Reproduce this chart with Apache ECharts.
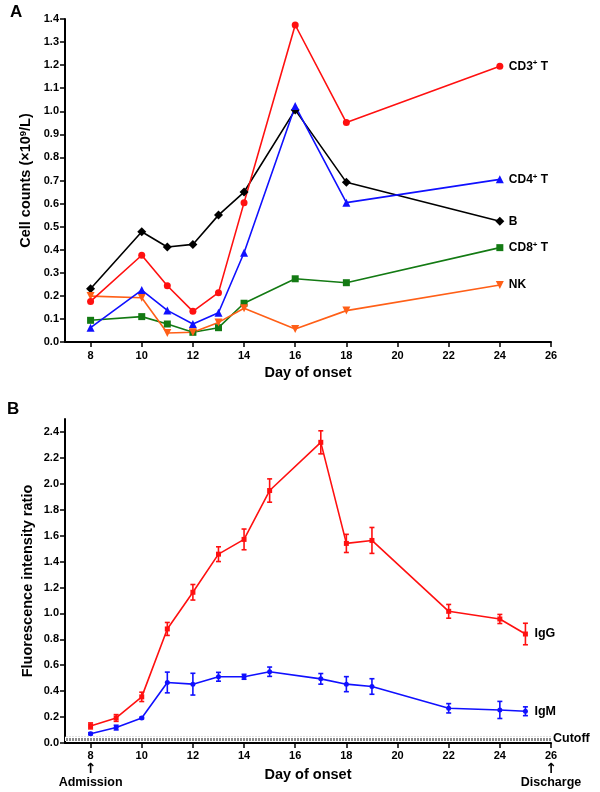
<!DOCTYPE html>
<html>
<head>
<meta charset="utf-8">
<script src="https://cdn.jsdelivr.net/npm/echarts@6/dist/echarts.min.js"></script>
<style>
html,body{margin:0;padding:0;background:#fff;}
#chart{width:600px;height:792px;}
</style>
</head>
<body>
<div id="chart"></div>
<script>
// ---------- Panel A data ----------
const daysA = [8, 10, 11, 12, 13, 14, 16, 18, 24];
const cd3 = [0.176, 0.376, 0.244, 0.133, 0.214, 0.604, 1.374, 0.951, 1.195];
const cd4 = [0.062, 0.225, 0.137, 0.078, 0.127, 0.387, 1.023, 0.604, 0.705];
const bCells = [0.231, 0.478, 0.412, 0.423, 0.550, 0.650, 1.006, 0.692, 0.523];
const cd8 = [0.094, 0.110, 0.078, 0.042, 0.062, 0.168, 0.274, 0.257, 0.409];
const nk = [0.199, 0.192, 0.039, 0.042, 0.085, 0.146, 0.056, 0.136, 0.247];

// ---------- Panel B data ----------
const daysB = [8, 9, 10, 11, 12, 13, 14, 15, 17, 18, 19, 22, 24, 25];
const igg = [0.132, 0.193, 0.356, 0.880, 1.163, 1.457, 1.571, 1.948, 2.320, 1.540, 1.563, 1.016, 0.957, 0.841];
const iggErr = [0.023, 0.026, 0.036, 0.050, 0.060, 0.057, 0.080, 0.090, 0.089, 0.070, 0.100, 0.053, 0.035, 0.083];
const igm = [0.072, 0.119, 0.193, 0.467, 0.454, 0.511, 0.511, 0.550, 0.495, 0.454, 0.436, 0.268, 0.255, 0.245];
const igmErr = [0.008, 0.018, 0.006, 0.080, 0.084, 0.034, 0.019, 0.036, 0.041, 0.058, 0.060, 0.036, 0.066, 0.034];
const cutoffBand = [0.015, 0.048];

// ---------- Ticks ----------
const xTicks = [8, 10, 12, 14, 16, 18, 20, 22, 24, 26];
const yTicksA = [0, 0.1, 0.2, 0.3, 0.4, 0.5, 0.6, 0.7, 0.8, 0.9, 1.0, 1.1, 1.2, 1.3, 1.4];
const yTicksB = [0, 0.2, 0.4, 0.6, 0.8, 1.0, 1.2, 1.4, 1.6, 1.8, 2.0, 2.2, 2.4];

const FONT = '"Liberation Sans", Arial, sans-serif';
const chart = echarts.init(document.getElementById('chart'), null, {renderer: 'canvas'});

// hatch pattern for cutoff band
const pat = document.createElement('canvas');
pat.width = 3; pat.height = 5;
const pctx = pat.getContext('2d');
pctx.fillStyle = '#ffffff'; pctx.fillRect(0, 0, 3, 5);
pctx.fillStyle = '#8a8a8a'; pctx.fillRect(0, 0, 2, 2); pctx.fillRect(0, 3, 2, 2);

const supRich = {
  a: {fontSize: 12, fontWeight: 'bold', fontFamily: FONT, color: '#000', lineHeight: 14},
  s: {fontSize: 8, fontWeight: 'bold', fontFamily: FONT, color: '#000', verticalAlign: 'top', lineHeight: 8}
};

function lineA(name, data, color, symbol, size, label, rotate) {
  return {
    type: 'line', name: name, xAxisIndex: 0, yAxisIndex: 0,
    data: daysA.map((d, i) => [d, data[i]]),
    symbol: symbol, symbolSize: size, symbolRotate: rotate || 0,
    lineStyle: {color: color, width: 1.6},
    itemStyle: {color: color},
    endLabel: {show: true, distance: 9, formatter: label, rich: supRich,
      fontSize: 12, fontWeight: 'bold', fontFamily: FONT, color: '#000'},
    z: 3
  };
}

function errSeries(vals, errs, color) {
  return {
    type: 'custom', xAxisIndex: 1, yAxisIndex: 1,
    data: daysB.map((d, i) => [d, vals[i], errs[i]]),
    encode: {x: 0, y: 1},
    renderItem: function (params, api) {
      const x = api.value(0), y = api.value(1), e = api.value(2);
      const top = api.coord([x, y + e]);
      const bot = api.coord([x, y - e]);
      const w = 2.5;
      const st = {stroke: color, lineWidth: 1.6};
      return {type: 'group', children: [
        {type: 'line', shape: {x1: top[0], y1: top[1], x2: bot[0], y2: bot[1]}, style: st},
        {type: 'line', shape: {x1: top[0] - w, y1: top[1], x2: top[0] + w, y2: top[1]}, style: st},
        {type: 'line', shape: {x1: bot[0] - w, y1: bot[1], x2: bot[0] + w, y2: bot[1]}, style: st}
      ]};
    },
    z: 4
  };
}

const axisLineStyle = {color: '#000', width: 2};
const tickStyle = {color: '#000', width: 1.5};
const labelStyle = {color: '#000', fontSize: 11, fontWeight: 'bold', fontFamily: FONT};
const nameStyle = {color: '#000', fontSize: 14.5, fontWeight: 'bold', fontFamily: FONT};

const option = {
  animation: false,
  backgroundColor: '#fff',
  title: [
    {text: 'A', left: 5, top: -1, textStyle: {fontSize: 17, fontWeight: 'bold', fontFamily: FONT, color: '#000'}},
    {text: 'B', left: 2, top: 396, textStyle: {fontSize: 17, fontWeight: 'bold', fontFamily: FONT, color: '#000'}}
  ],
  grid: [
    {left: 65, top: 19, width: 486, height: 323, outerBoundsMode: 'none', containLabel: false},
    {left: 65, top: 419, width: 486, height: 324, outerBoundsMode: 'none', containLabel: false}
  ],
  xAxis: [
    {type: 'value', gridIndex: 0, min: 7, max: 26,
      axisLine: {show: true, onZero: false, lineStyle: axisLineStyle},
      axisTick: {show: true, customValues: xTicks, length: 5, lineStyle: tickStyle},
      axisLabel: Object.assign({customValues: xTicks, margin: 8}, labelStyle),
      splitLine: {show: false},
      name: 'Day of onset', nameLocation: 'middle', nameGap: 23, nameMoveOverlap: false, nameTextStyle: nameStyle},
    {type: 'value', gridIndex: 1, min: 7, max: 26,
      axisLine: {show: true, onZero: false, lineStyle: axisLineStyle},
      axisTick: {show: true, customValues: xTicks, length: 5, lineStyle: tickStyle},
      axisLabel: Object.assign({customValues: xTicks, margin: 7,
        formatter: function (v) {
          if (v === 8) return '{n|8}\n{ar|↑}\n{t|Admission}';
          if (v === 26) return '{n|26}\n{ar|↑}\n{t|Discharge}';
          return String(v);
        },
        rich: {
          n: {fontSize: 11, fontWeight: 'bold', fontFamily: FONT, color: '#000', lineHeight: 12},
          ar: {fontSize: 14, fontFamily: '"DejaVu Sans", sans-serif', color: '#000', lineHeight: 14},
          t: {fontSize: 12.5, fontWeight: 'bold', fontFamily: FONT, color: '#000', lineHeight: 14}
        }}, labelStyle),
      splitLine: {show: false},
      name: 'Day of onset', nameLocation: 'middle', nameGap: 24, nameMoveOverlap: false, nameTextStyle: nameStyle}
  ],
  yAxis: [
    {type: 'value', gridIndex: 0, min: 0, max: 1.4, interval: 0.1,
      axisLine: {show: true, onZero: false, lineStyle: axisLineStyle},
      axisTick: {show: true, customValues: yTicksA, length: 5, lineStyle: tickStyle},
      axisLabel: Object.assign({customValues: yTicksA, margin: 6, formatter: v => v.toFixed(1)}, labelStyle),
      splitLine: {show: false},
      name: '{a|Cell counts (×10}{s|9}{a|/L)}', nameLocation: 'middle', nameGap: 31, nameMoveOverlap: false,
      nameTextStyle: Object.assign({rich: {
        a: {fontSize: 14.5, fontWeight: 'bold', fontFamily: FONT, color: '#000', lineHeight: 16},
        s: {fontSize: 9.5, fontWeight: 'bold', fontFamily: FONT, color: '#000', verticalAlign: 'top', lineHeight: 9}
      }}, nameStyle)},
    {type: 'value', gridIndex: 1, min: 0, max: 2.5, interval: 0.1,
      axisLine: {show: true, onZero: false, lineStyle: axisLineStyle},
      axisTick: {show: true, customValues: yTicksB, length: 5, lineStyle: tickStyle},
      axisLabel: Object.assign({customValues: yTicksB, margin: 6, formatter: v => v.toFixed(1)}, labelStyle),
      splitLine: {show: false},
      name: 'Fluorescence intensity ratio', nameLocation: 'middle', nameGap: 30, nameMoveOverlap: false, nameTextStyle: nameStyle}
  ],
  series: [
    lineA('B', bCells, '#000000', 'diamond', 9, '{a|B}'),
    lineA('CD8', cd8, '#137a13', 'rect', 7, '{a|CD8}{s|+}{a| T}'),
    lineA('NK', nk, '#ff5f17', 'triangle', 8, '{a|NK}', 180),
    lineA('CD4', cd4, '#1010ff', 'triangle', 8, '{a|CD4}{s|+}{a| T}'),
    lineA('CD3', cd3, '#ff1010', 'circle', 7, '{a|CD3}{s|+}{a| T}'),
    {
      type: 'line', name: 'IgM', xAxisIndex: 1, yAxisIndex: 1,
      data: daysB.map((d, i) => [d, igm[i]]),
      symbol: 'circle', symbolSize: 5,
      lineStyle: {color: '#1010ff', width: 1.6}, itemStyle: {color: '#1010ff'},
      endLabel: {show: true, distance: 9, formatter: 'IgM', fontSize: 12.5, fontWeight: 'bold', fontFamily: FONT, color: '#000'},
      markArea: {
        silent: true,
        itemStyle: {color: {image: pat, repeat: 'repeat'}},
        label: {show: true, position: 'right', distance: 2, formatter: 'Cutoff',
          fontSize: 12.5, fontWeight: 'bold', fontFamily: FONT, color: '#000'},
        data: [[{xAxis: 7, yAxis: cutoffBand[0]}, {xAxis: 26, yAxis: cutoffBand[1]}]]
      },
      z: 3
    },
    {
      type: 'line', name: 'IgG', xAxisIndex: 1, yAxisIndex: 1,
      data: daysB.map((d, i) => [d, igg[i]]),
      symbol: 'rect', symbolSize: 5,
      lineStyle: {color: '#ff1010', width: 1.6}, itemStyle: {color: '#ff1010'},
      endLabel: {show: true, distance: 9, formatter: 'IgG', fontSize: 12.5, fontWeight: 'bold', fontFamily: FONT, color: '#000'},
      z: 3
    },
    errSeries(igm, igmErr, '#1010ff'),
    errSeries(igg, iggErr, '#ff1010')
  ]
};
chart.setOption(option);
</script>
</body>
</html>
